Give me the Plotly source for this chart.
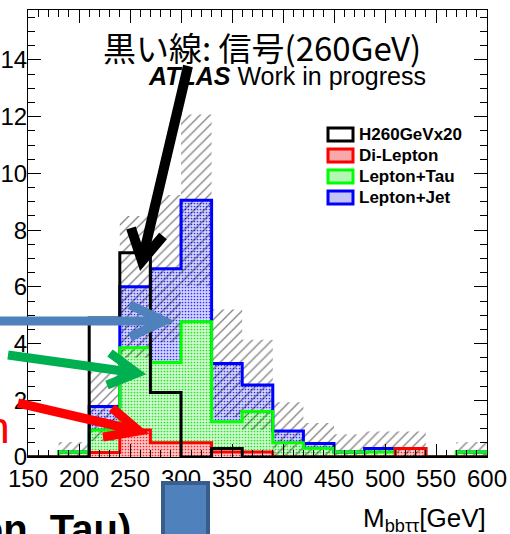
import plotly.graph_objects as go

# ---------------- data ----------------
bin_edges = [150, 180, 210, 240, 270, 300, 330, 360, 390, 420, 450, 480, 510, 540, 570, 600]
di_lepton = [0, 0, 0.16, 0.95, 0.5, 0.5, 0.18, 0.18, 0, 0, 0, 0, 0.3, 0, 0]
lepton_tau = [0, 0.18, 0.79, 2.9, 2.83, 4.27, 1.06, 1.42, 0.5, 0.31, 0.18, 0.18, 0, 0, 0.18]
lepton_jet = [0, 0, 0.83, 2.15, 3.31, 4.28, 2.06, 0.94, 0.42, 0.17, 0, 0.12, 0, 0, 0]
signal_h260x20 = [0, 0, 4.9, 7.2, 2.27, 0, 0.3, 0, 0, 0, 0, 0, 0, 0, 0]
bkg_uncertainty = [0, 0.35, 1.22, 2.5, 2.6, 3.03, 1.9, 1.59, 1.01, 0.72, 0.62, 0.6, 0.6, 0, 0.35]

legend_names = ["H260GeVx20", "Di-Lepton", "Lepton+Tau", "Lepton+Jet"]
legend_lines = ["black", "#ff0000", "#00ff00", "#0000ff"]
legend_fills = ["white", "#f7a8a8", "#b4f7b4", "#c4c4f7"]

x_ticks = [150, 200, 250, 300, 350, 400, 450, 500, 550, 600]
y_ticks = [0, 2, 4, 6, 8, 10, 12, 14]

# ---------------- geometry helpers ----------------
W_FIG, H_FIG = 510, 534
PL, PR, PT, PB = 28, 487, 10, 457
def px(x):
    return (x - PL) / (PR - PL)
def py(y):
    return (PB - y) / (PB - PT)

centers = [(a + b) / 2 for a, b in zip(bin_edges[:-1], bin_edges[1:])]
widths = [b - a for a, b in zip(bin_edges[:-1], bin_edges[1:])]
cum_red = list(di_lepton)
cum_green = [r + g for r, g in zip(cum_red, lepton_tau)]
cum_blue = [g + b for g, b in zip(cum_green, lepton_jet)]

def step(vals):
    xs = [bin_edges[0]] + list(bin_edges)
    ys = [0] + list(vals) + [0]
    return xs, ys

fig = go.Figure()

# stacked fills (fine dotted look)
fills = [
    (di_lepton, [0] * len(di_lepton), "#ff2020", "#fbc8c8"),
    (lepton_tau, cum_red, "#20e020", "#cffbcf"),
    (lepton_jet, cum_green, "#3030ff", "#d6d6fb"),
]
for vals, base, fg, bg in fills:
    fig.add_trace(go.Bar(
        x=centers, y=vals, base=base, width=widths,
        marker=dict(color=bg, line=dict(width=0),
                    pattern=dict(shape=".", fgcolor=fg, bgcolor=bg,
                                 size=3, solidity=0.25, fillmode="replace")),
        showlegend=False, hoverinfo="skip"))

# uncertainty band (hatched)
lo = [max(t - e, 0) for t, e in zip(cum_blue, bkg_uncertainty)]
hi = [t + e if e > 0 else 0 for t, e in zip(cum_blue, bkg_uncertainty)]
fig.add_trace(go.Bar(
    x=centers, y=[h - l for h, l in zip(hi, lo)], base=lo, width=widths,
    marker=dict(color="rgba(0,0,0,0)", line=dict(width=0),
                pattern=dict(shape="/", fgcolor="#000000", bgcolor="rgba(0,0,0,0)",
                             size=7, solidity=0.18, fillmode="overlay")),
    showlegend=False, hoverinfo="skip"))

# outlines
for vals, col in [(cum_blue, "#0000ff"), (cum_green, "#00ff00"), (cum_red, "#ff0000"),
                  (signal_h260x20, "black")]:
    xs, ys = step(vals)
    fig.add_trace(go.Scatter(x=xs, y=ys, mode="lines", line=dict(color=col, width=3, shape="hv"),
                             showlegend=False, hoverinfo="skip"))

axis_common = dict(showline=True, linecolor="black", linewidth=1, mirror="allticks",
                   ticks="inside", ticklen=13, tickcolor="black", tickwidth=1,
                   showgrid=False, zeroline=False, automargin=False,
                   tickfont=dict(family="Liberation Sans, Arial", size=24, color="black"))
fig.update_xaxes(range=[150, 600], tickvals=x_ticks,
                 minor=dict(dtick=10, ticks="inside", ticklen=7, tickcolor="black"),
                 **axis_common)
fig.update_yaxes(range=[0, 15.76], tickvals=y_ticks, ticklabelstandoff=-5,
                 minor=dict(dtick=0.5, ticks="inside", ticklen=7, tickcolor="black"),
                 **axis_common)

shapes = []
annotations = []

# legend (manual)
rows = [134.5, 155.5, 176.5, 197.5]
for name, lc, fc, yc in zip(legend_names, legend_lines, legend_fills, rows):
    shapes.append(dict(type="rect", xref="paper", yref="paper",
                       x0=px(328), x1=px(353), y0=py(yc + 6.5), y1=py(yc - 6.5),
                       line=dict(color=lc, width=3), fillcolor=fc, layer="above"))
    annotations.append(dict(text="<b>" + name + "</b>", xref="paper", yref="paper",
                            x=px(357), y=py(yc), xanchor="left", yanchor="middle",
                            showarrow=False,
                            font=dict(family="Liberation Sans, Arial", size=17, color="black")))

# arrows
def arrow(start, tip, b1, b2, color, width):
    p = lambda a: f"{px(a[0])},{py(a[1])}"
    shapes.append(dict(type="path", xref="paper", yref="paper",
                       path=f"M {p(start)} L {p(tip)}", line=dict(color=color, width=width),
                       layer="above"))
    shapes.append(dict(type="path", xref="paper", yref="paper",
                       path=f"M {p(b1)} L {p(tip)} L {p(b2)}", line=dict(color=color, width=width),
                       layer="above"))

arrow((188, 66), (142, 261), (131, 228), (163, 236), "black", 10)
arrow((-5, 321), (164, 321), (130, 305), (130, 337), "#4F81BD", 9)
arrow((8, 355), (137, 373), (110, 353), (107, 385), "#00B050", 9)
arrow((18, 403), (139, 431), (112, 408), (103, 437), "#FF0000", 9)

# blue box at bottom
shapes.append(dict(type="rect", xref="paper", yref="paper",
                   x0=px(163), x1=px(208), y0=py(550), y1=py(483),
                   line=dict(color="#385D8A", width=4), fillcolor="#4F81BD", layer="above"))

annotations += [
    dict(text="黒い線: 信号(260GeV)", xref="paper", yref="paper", x=px(262), y=py(47),
         xanchor="center", yanchor="middle", showarrow=False,
         font=dict(family="Noto Sans CJK JP", size=33, color="black")),
    dict(text="<b><i>ATLAS</i></b> Work in progress", xref="paper", yref="paper",
         x=px(146), y=py(76), xanchor="left", yanchor="middle", showarrow=False,
         font=dict(family="Liberation Sans, Arial", size=25, color="black")),
    dict(text="M<sub>bbττ</sub>[GeV]", xref="paper", yref="paper", x=px(488), y=py(519),
         xanchor="right", yanchor="middle", showarrow=False,
         font=dict(family="Liberation Sans, Arial", size=26, color="black")),
    dict(text="Di-Lepton", xref="paper", yref="paper", x=px(12), y=py(427),
         xanchor="right", yanchor="middle", showarrow=False,
         font=dict(family="Liberation Sans, Arial", size=44, color="#ff0000")),
    dict(text="<b>(Lepton, Tau)</b>", xref="paper", yref="paper", x=px(133), y=py(505),
         xanchor="right", yanchor="top", showarrow=False,
         font=dict(family="Liberation Sans, Arial", size=40, color="black")),
]

fig.update_layout(
    width=W_FIG, height=H_FIG,
    margin=dict(l=PL, r=W_FIG - PR, t=PT, b=H_FIG - PB, pad=0),
    paper_bgcolor="white", plot_bgcolor="white",
    barmode="overlay", showlegend=False,
    shapes=shapes, annotations=annotations,
)

fig.write_html("out.html")
